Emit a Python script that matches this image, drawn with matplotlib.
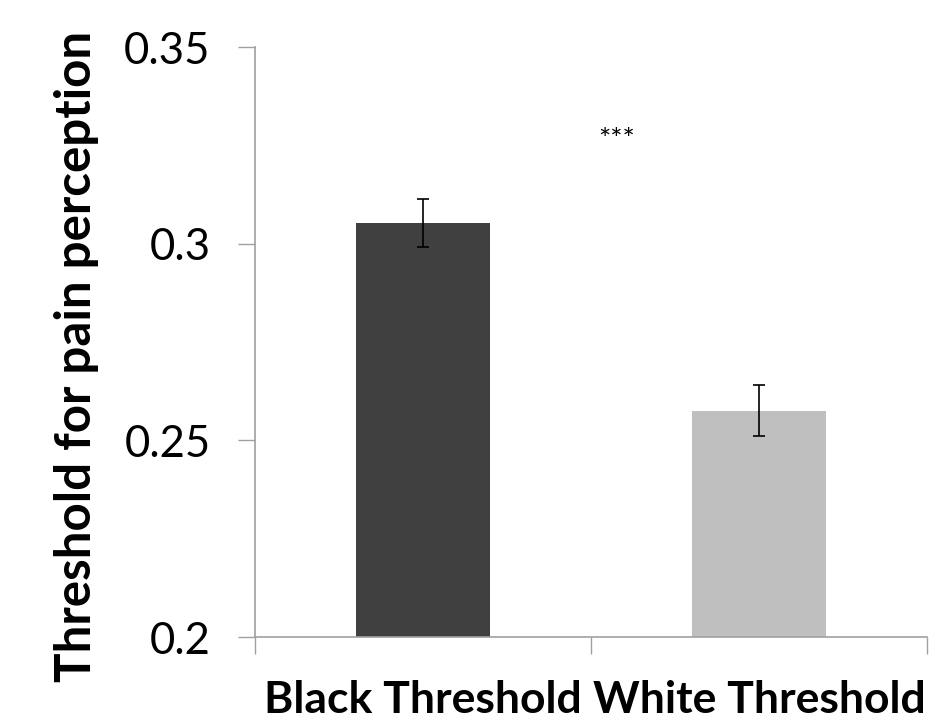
import matplotlib
matplotlib.use("Agg")
import matplotlib.pyplot as plt

categories = ["Black Threshold", "White Threshold"]
values = [0.3053, 0.2575]
errors = [0.0062, 0.0065]
colors = ["#404040", "#bfbfbf"]
yticks = [0.2, 0.25, 0.3, 0.35]
ytick_labels = ["0.2", "0.25", "0.3", "0.35"]
sig_label = "***"
sig_pos = (0.577, 0.3284)

plt.rcParams['font.family'] = ['Lato', 'DejaVu Sans']

fig = plt.figure(figsize=(9.48, 7.24), dpi=100)
ax = fig.add_axes([0.269, 0.120, 0.709, 0.815])

x = list(range(len(categories)))
ax.bar(x, values, width=0.40, color=colors, zorder=2)
ax.errorbar(x, values, yerr=errors, fmt='none', ecolor='black',
            elinewidth=1.2, capsize=4.5, capthick=1.2, zorder=3)

ax.set_xlim(-0.5, 1.5)
ax.set_ylim(0.2, 0.35)
ax.set_yticks(yticks)
ax.set_yticklabels(ytick_labels, fontsize=31.5)
ax.set_xticks(x)
ax.set_xticklabels(categories, fontsize=32, fontweight='bold')
ax.set_xticks([-0.5, 0.5, 1.5], minor=True)
ax.tick_params(axis='x', which='major', length=0, pad=31)
ax.tick_params(axis='x', which='minor', length=12, width=1, color='#a0a0a0', direction='out')
ax.tick_params(axis='y', length=12, width=1, color='#a0a0a0', pad=20)

for s in ['top', 'right']:
    ax.spines[s].set_visible(False)
for s in ['left', 'bottom']:
    ax.spines[s].set_color('#a0a0a0')
    ax.spines[s].set_linewidth(1.2)

ax.set_ylabel("Threshold for pain perception", fontsize=35.5, fontweight='bold')
ax.yaxis.set_label_coords(-0.232, 0.475)
ax.text(sig_pos[0], sig_pos[1] - 0.0022, sig_label, ha='center', va='center', fontsize=21)

fig.savefig("out.png", dpi=100)
